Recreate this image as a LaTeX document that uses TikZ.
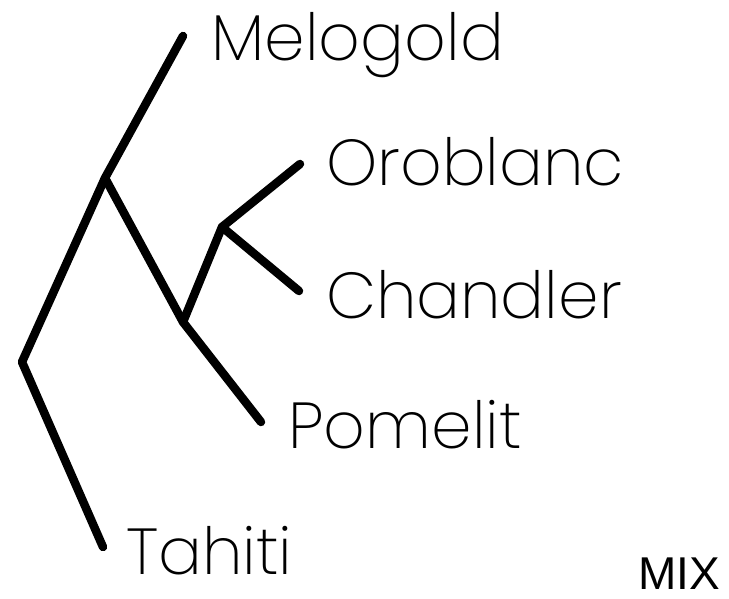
\documentclass[tikz,border=0pt]{standalone}
\usepackage{fontspec}
\setmainfont{Poppins}[UprightFont=* ExtraLight]
\newfontfamily\mixfont{Liberation Sans}
\begin{document}
\begin{tikzpicture}[x=1pt, y=-1pt,
  branch/.style={line width=8.5pt, line cap=round, line join=round},
  taxon/.style={anchor=base west, inner sep=0pt, font=\fontsize{65}{65}\selectfont}]
\useasboundingbox (0,0) rectangle (729,599);
% internal nodes of the tree
\coordinate (root) at (22,362);
\coordinate (n1) at (105,178);
\coordinate (n2) at (183,322);
\coordinate (n3) at (222,227);
% leaf tips
\coordinate (tMel) at (183,36);
\coordinate (tOro) at (300,164);
\coordinate (tCha) at (299,291);
\coordinate (tPom) at (261,422);
\coordinate (tTah) at (103,547);
% branches
\draw[branch] (tMel) -- (n1) -- (root) -- (tTah);
\draw[branch] (n1) -- (n2) -- (tPom);
\draw[branch] (n2) -- (n3) -- (tOro);
\draw[branch] (n3) -- (tCha);
% leaf labels
\node[taxon] (mel) at (211,61) {Melogold};
\node[taxon] (oro) at (326,186) {Oroblanc};
\node[taxon] (cha) at (326,318) {Chandler};
\node[taxon] (pom) at (288,448) {Pomelit};
\node[taxon] (tah) at (126,574) {Tahiti};
\node[anchor=base west, inner sep=0pt, font=\mixfont\fontsize{46}{46}\selectfont] (mix) at (638,589) {MIX};
\end{tikzpicture}
\end{document}
